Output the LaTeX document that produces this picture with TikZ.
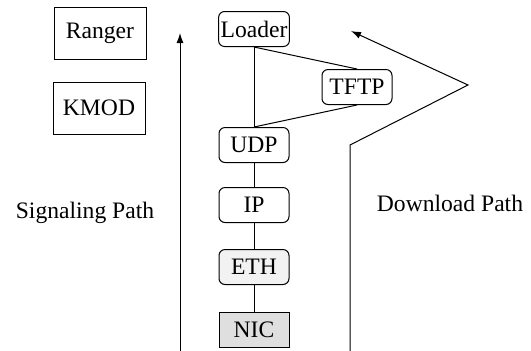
\documentclass[tikz,border=0pt]{standalone}
\usepackage{fontspec}
\setmainfont{Liberation Serif}
\usetikzlibrary{arrows.meta}

\begin{document}
\begin{tikzpicture}[x=0.5pt, y=-0.5pt, line width=0.5pt,
  font=\fontsize{11.8}{14}\selectfont,
  plain/.style={draw, inner sep=1pt, minimum width=46pt, minimum height=26pt},
  layer/.style={draw, rounded corners=3pt, inner sep=1pt, minimum width=35pt, minimum height=17.5pt},
  path arrow/.style={-{Latex[length=5pt, width=3.5pt]}}]
\useasboundingbox (0,0) rectangle (531,350);

\node[plain] (ranger) at (100,33) {Ranger};
\node[plain] (kmod) at (99,108) {KMOD};

\node[layer] (loader) at (254,29) {Loader};
\node[layer] (tftp) at (357,87) {TFTP};
\node[layer] (udp) at (254,145) {UDP};
\node[layer] (ip) at (254,205) {IP};
\node[layer, fill=gray!10] (eth) at (254,267) {ETH};
\node[draw, fill=gray!25, inner sep=1pt, minimum width=35pt, minimum height=17.5pt] (nic) at (254,330) {NIC};

\draw (loader.south) -- (udp.north);
\draw (loader.south) -- (tftp.north);
\draw (tftp.south) -- (udp.north);
\draw (udp) -- (ip);
\draw (ip) -- (eth);
\draw (eth) -- (nic);

\coordinate (sig0) at (180,352);
\coordinate (sig1) at (180,33);
\draw[path arrow] (sig0) -- (sig1);
\node (siglabel) at (85,213) {Signaling Path};

\coordinate (dl0) at (350,352);
\coordinate (dl1) at (350,145);
\coordinate (dl2) at (468,85);
\coordinate (dl3) at (351,31);
\draw[path arrow] (dl0) -- (dl1) -- (dl2) -- (dl3);
\node (dllabel) at (450,203) {Download Path};
\end{tikzpicture}
\end{document}
